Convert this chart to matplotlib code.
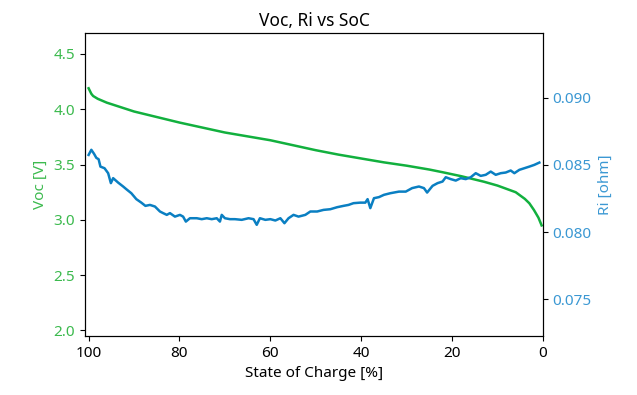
import matplotlib

matplotlib.use("Agg")
import matplotlib.pyplot as plt

plt.rcParams["font.family"] = ["Noto Sans", "DejaVu Sans"]

# open-circuit voltage vs state of charge
soc_voc = [100.0, 99.7, 99.4, 99.0, 98.0, 96.0, 93.0, 90.0, 85.0, 80.0, 75.0,
           70.0, 65.0, 60.0, 55.0, 50.0, 45.0, 40.0, 35.0, 30.0, 25.0, 22.0,
           18.0, 16.0, 13.0, 10.0, 8.0, 6.0, 4.0, 3.0, 2.0, 1.0, 0.3]
voc = [4.19, 4.165, 4.14, 4.12, 4.095, 4.06, 4.02, 3.98, 3.93, 3.88, 3.835,
       3.79, 3.755, 3.72, 3.675, 3.63, 3.59, 3.555, 3.52, 3.49, 3.455, 3.43,
       3.395, 3.375, 3.345, 3.31, 3.28, 3.25, 3.19, 3.15, 3.09, 3.02, 2.95]

# internal resistance vs state of charge
soc_ri = [100.0, 99.4, 98.8, 98.3, 97.8, 97.4, 96.5, 95.7, 95.1, 94.6, 93.5,
          92.4, 91.7, 90.6, 89.5, 88.4, 87.5, 86.5, 85.4, 84.3, 83.6, 82.8,
          82.1, 81.0, 79.9, 79.2, 78.6, 77.7, 76.2, 75.1, 74.0, 72.9, 71.8,
          71.1, 70.7, 70.0, 68.9, 67.8, 66.3, 64.8, 63.7, 63.0, 62.3, 61.1,
          60.0, 58.9, 57.8, 56.9, 56.0, 54.9, 53.8, 52.3, 51.2, 49.7, 48.3,
          46.8, 45.3, 43.9, 42.8, 41.7, 40.2, 39.1, 38.6, 38.0, 37.2, 36.1,
          35.0, 33.6, 31.7, 30.2, 28.8, 27.3, 26.2, 25.5, 24.3, 23.2, 22.1,
          21.4, 20.3, 19.2, 18.1, 17.0, 15.9, 14.8, 13.7, 12.6, 11.5, 10.4,
          9.3, 8.2, 7.1, 6.3, 5.2, 4.1, 3.0, 1.9, 0.8]
ri = [0.08574, 0.08612, 0.08582, 0.08552, 0.08542, 0.08487, 0.08475, 0.08438,
      0.08364, 0.08401, 0.08368, 0.08339, 0.08319, 0.08289, 0.08245, 0.08219,
      0.08195, 0.08202, 0.08190, 0.08153, 0.08141, 0.08128, 0.08141, 0.08115,
      0.08128, 0.08115, 0.08078, 0.08103, 0.08103, 0.08096, 0.08103, 0.08096,
      0.08103, 0.08078, 0.08128, 0.08103, 0.08096, 0.08096, 0.08091, 0.08103,
      0.08096, 0.08054, 0.08103, 0.08091, 0.08096, 0.08086, 0.08103, 0.08066,
      0.08103, 0.08128, 0.08115, 0.08128, 0.08153, 0.08153, 0.08165, 0.08170,
      0.08185, 0.08195, 0.08202, 0.08215, 0.08219, 0.08219, 0.08245, 0.08178,
      0.08252, 0.08260, 0.08277, 0.08289, 0.08301, 0.08301, 0.08327, 0.08339,
      0.08327, 0.08294, 0.08344, 0.08364, 0.08376, 0.08408, 0.08394, 0.08383,
      0.08401, 0.08394, 0.08408, 0.08438, 0.08418, 0.08426, 0.08450, 0.08426,
      0.08438, 0.08443, 0.08458, 0.08438, 0.08463, 0.08475, 0.08487, 0.08500,
      0.08517]

GREEN = "#12b03e"
GREEN_TXT = "#3cba4e"
BLUE = "#0a7fc2"
BLUE_TXT = "#3b98d3"

fig = plt.figure(figsize=(6.37, 3.95), dpi=100)
ax = fig.add_axes([0.1334, 0.1494, 0.719, 0.7671])
ax2 = ax.twinx()

ax.plot(soc_voc, voc, color=GREEN, lw=1.8)
ax2.plot(soc_ri, ri, color=BLUE, lw=1.8)

ax.set_xlim(100.8, 0)
ax.set_ylim(1.95, 4.69)
ax2.set_ylim(0.07227, 0.09481)
ax.set_xticks([100, 80, 60, 40, 20, 0])
ax.set_yticks([2.0, 2.5, 3.0, 3.5, 4.0, 4.5])
ax2.set_yticks([0.075, 0.080, 0.085, 0.090])

ax.set_xlabel("State of Charge [%]", fontsize=11)
ax.set_ylabel("Voc [V]", color=GREEN_TXT, fontsize=11)
ax2.set_ylabel("Ri [ohm]", color=BLUE_TXT, fontsize=11)
ax.tick_params(axis="y", labelcolor=GREEN_TXT, labelsize=11)
ax.tick_params(axis="x", labelsize=11)
ax2.tick_params(axis="y", labelcolor=BLUE_TXT, labelsize=11)
ax.set_title("Voc, Ri vs SoC", fontsize=12.5, pad=5)

fig.savefig("out.png", dpi=100)
